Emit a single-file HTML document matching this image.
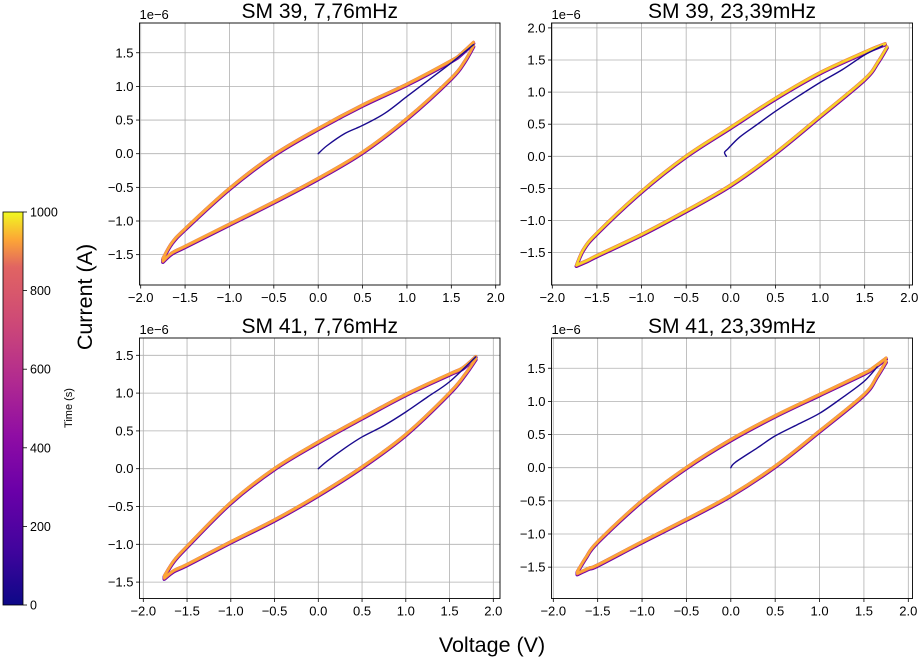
<!DOCTYPE html>
<html><head><meta charset="utf-8"><style>
html,body{margin:0;padding:0;background:#fff;}
svg{display:block;font-family:"Liberation Sans","DejaVu Sans",sans-serif;}
</style></head><body>
<svg id="fig" width="920" height="659" viewBox="0 0 920 659" xmlns="http://www.w3.org/2000/svg">
<defs><linearGradient id="plasma" x1="0" y1="1" x2="0" y2="0">
<stop offset="0" stop-color="#0d0887"/><stop offset="0.14" stop-color="#41049d"/><stop offset="0.29" stop-color="#6a00a8"/><stop offset="0.43" stop-color="#8f0da4"/><stop offset="0.57" stop-color="#b12a90"/><stop offset="0.71" stop-color="#cc4778"/><stop offset="0.86" stop-color="#e16462"/><stop offset="0.93" stop-color="#fca636"/><stop offset="1" stop-color="#f0f921"/>
</linearGradient></defs>
<rect x="3" y="212" width="20" height="393" fill="url(#plasma)" stroke="#000" stroke-width="0.8"/>
<text x="72" y="408" font-size="11" text-anchor="middle" transform="rotate(-90 72 408)">Time (s)</text>
<text x="92" y="297" font-size="21.5" text-anchor="middle" transform="rotate(-90 92 297)">Current (A)</text>
<text x="492" y="652" font-size="21.5" text-anchor="middle">Voltage (V)</text>
<g id="cbticks"></g>
<g id="panels"></g>
</svg>
<script>
const NS="http://www.w3.org/2000/svg";
const cbTicks=[0,200,400,600,800,1000];
const xTicks=[-2.0,-1.5,-1.0,-0.5,0.0,0.5,1.0,1.5,2.0];
const titles=["SM 39, 7,76mHz","SM 39, 23,39mHz","SM 41, 7,76mHz","SM 41, 23,39mHz"];
const yTicksList=[[-1.5,-1.0,-0.5,0.0,0.5,1.0,1.5],[-1.5,-1.0,-0.5,0.0,0.5,1.0,1.5,2.0],[-1.5,-1.0,-0.5,0.0,0.5,1.0,1.5],[-1.5,-1.0,-0.5,0.0,0.5,1.0,1.5]];
// loop data per panel: voltage (V) and current (1e-6 A)
const upV=[[1.75,1.6,1.5,1.0,0.5,0,-0.5,-1.0,-1.5,-1.65,-1.75],[1.73,1.6,1.5,1.0,0.5,0,-0.5,-1.0,-1.5,-1.65,-1.73],[1.8,1.65,1.5,1.0,0.5,0,-0.5,-1.0,-1.5,-1.65,-1.76],[1.75,1.6,1.5,1.0,0.5,0,-0.5,-1.0,-1.5,-1.63,-1.73]];
const upI=[[1.65,1.47,1.38,1.03,0.72,0.37,-0.02,-0.52,-1.12,-1.33,-1.56],[1.75,1.68,1.62,1.3,0.9,0.45,0.0,-0.55,-1.2,-1.45,-1.7],[1.48,1.33,1.25,0.98,0.67,0.35,0.0,-0.45,-1.03,-1.22,-1.42],[1.65,1.5,1.42,1.1,0.78,0.42,0.0,-0.5,-1.12,-1.35,-1.57]];
const loV=[[-1.75,-1.65,-1.5,-1.0,-0.5,0,0.5,1.0,1.5,1.65,1.75],[-1.73,-1.6,-1.5,-1.0,-0.5,0,0.5,1.0,1.5,1.65,1.75],[-1.76,-1.65,-1.5,-1.0,-0.5,0,0.5,1.0,1.5,1.68,1.8],[-1.73,-1.6,-1.5,-1.0,-0.5,0,0.5,1.0,1.5,1.65,1.75]];
const loI=[[-1.6,-1.48,-1.38,-1.05,-0.72,-0.37,0.02,0.52,1.12,1.37,1.6],[-1.7,-1.62,-1.55,-1.22,-0.85,-0.45,0.05,0.62,1.2,1.47,1.7],[-1.45,-1.35,-1.27,-0.97,-0.68,-0.35,0.02,0.45,1.0,1.25,1.45],[-1.6,-1.52,-1.47,-1.12,-0.78,-0.42,0.02,0.55,1.1,1.38,1.6]];
const initV=[[0,0.1,0.3,0.5,0.75,1.0,1.25,1.5,1.75],[-0.05,-0.07,-0.03,0.1,0.3,0.5,0.75,1.0,1.25,1.5,1.7],[0,0.1,0.3,0.5,0.75,1.0,1.25,1.5,1.8],[0,0.05,0.3,0.5,0.75,1.0,1.25,1.5,1.65]];
const initI=[[0,0.12,0.3,0.42,0.6,0.85,1.1,1.35,1.62],[0,0.06,0.12,0.3,0.5,0.7,0.93,1.15,1.35,1.58,1.72],[0,0.1,0.27,0.42,0.57,0.75,0.95,1.15,1.48],[0,0.08,0.3,0.48,0.65,0.82,1.05,1.3,1.52]];
// layout: axes boxes and axis ranges
const boxes=[{l:139.5,r:500,t:23,b:285,x0:318.2,xs:88.75,y0:153.7,ys:67.3},{l:551.5,r:912.5,t:23,b:285,x0:730.8,xs:89.25,y0:156.3,ys:64.2},{l:139.5,r:500,t:338,b:598.5,x0:318.3,xs:87.5,y0:468.7,ys:75.6},{l:551.5,r:912.5,t:338,b:598.5,x0:730.8,xs:88.75,y0:467.7,ys:66.3}];
const colors={init:"#1a0a8f",c1:"#6a00a8",c2:"#b12a90",c3:"#e16462",c4:"#fca636",c5:"#f5d426"};
function el(tag,attrs,parent){const e=document.createElementNS(NS,tag);for(const k in attrs)e.setAttribute(k,attrs[k]);parent.appendChild(e);return e;}
function fmt(v){return (v<0?"\u2212":"")+Math.abs(v).toFixed(1);}
function smooth(pts){let d="M"+pts[0][0]+","+pts[0][1];for(let i=0;i<pts.length-1;i++){const p0=pts[Math.max(0,i-1)],p1=pts[i],p2=pts[i+1],p3=pts[Math.min(pts.length-1,i+2)];const c1=[p1[0]+(p2[0]-p0[0])/6,p1[1]+(p2[1]-p0[1])/6],c2=[p2[0]-(p3[0]-p1[0])/6,p2[1]-(p3[1]-p1[1])/6];d+=" C"+c1[0]+","+c1[1]+" "+c2[0]+","+c2[1]+" "+p2[0]+","+p2[1];}return d;}
const cbg=document.getElementById("cbticks");
cbTicks.forEach(t=>{const y=605-t/1000*393;
const ln=el("line",{x1:23,x2:27,y1:y,y2:y,stroke:"#000","stroke-width":0.8},cbg);


const tx=el("text",{x:30,y:y+4.5,"font-size":12.5},cbg);tx.textContent=t;

});
const pg=document.getElementById("panels");
boxes.forEach((b,p)=>{
const g=el("g",{},pg);


const X=v=>b.x0+v*b.xs, Y=v=>b.y0-v*b.ys;
el("rect",{x:b.l,y:b.t,width:b.r-b.l,height:b.b-b.t,fill:"#fff"},g);
const clipId="clip"+p;const cp=el("clipPath",{id:clipId},g);el("rect",{x:b.l,y:b.t,width:b.r-b.l,height:b.b-b.t},cp);
xTicks.forEach(t=>{const x=X(t);
const gl=el("line",{x1:x,x2:x,y1:b.t,y2:b.b,stroke:"#b0b0b0","stroke-width":0.8},g);


el("line",{x1:x,x2:x,y1:b.b,y2:b.b+3.5,stroke:"#000","stroke-width":0.8},g);
const tx=el("text",{x:x,y:b.b+17,"font-size":13,"text-anchor":"middle"},g);tx.textContent=fmt(t);

});
yTicksList[p].forEach(t=>{const y=Y(t);
const gl=el("line",{x1:b.l,x2:b.r,y1:y,y2:y,stroke:"#b0b0b0","stroke-width":0.8},g);


el("line",{x1:b.l-3.5,x2:b.l,y1:y,y2:y,stroke:"#000","stroke-width":0.8},g);
const tx=el("text",{x:b.l-6,y:y+4.5,"font-size":13,"text-anchor":"end"},g);tx.textContent=fmt(t);

});
const cg=el("g",{"clip-path":"url(#"+clipId+")",fill:"none","stroke-linecap":"round","stroke-linejoin":"round"},g);
const up=upV[p].map((v,i)=>[X(v),Y(upI[p][i])]);
const lo=loV[p].map((v,i)=>[X(v),Y(loI[p][i])]);
const loopD=smooth(up)+" "+smooth(lo).replace("M","L");
const layers=[[colors.c1,3.6,0.8],[colors.c2,3,-0.4],[colors.c3,2.6,0.3],[colors.c4,2.4,-0.6],[p==1?colors.c5:colors.c4,2,0]];
layers.forEach(([c,w,dy])=>{const pth=el("path",{d:loopD,stroke:c,"stroke-width":w,transform:"translate(0,"+dy+")"},cg);

});
const ini=initV[p].map((v,i)=>[X(v),Y(initI[p][i])]);
const ip=el("path",{d:smooth(ini),stroke:colors.init,"stroke-width":1.4},cg);


const fr=el("rect",{x:b.l,y:b.t,width:b.r-b.l,height:b.b-b.t,fill:"none",stroke:"#000","stroke-width":0.9},g);


const tt=el("text",{x:(b.l+b.r)/2,y:b.t-5,"font-size":21,"text-anchor":"middle"},g);tt.textContent=titles[p];


const off=el("text",{x:b.l,y:b.t-4,"font-size":13},g);off.textContent="1e\u22126";


});
</script>
</body></html>
